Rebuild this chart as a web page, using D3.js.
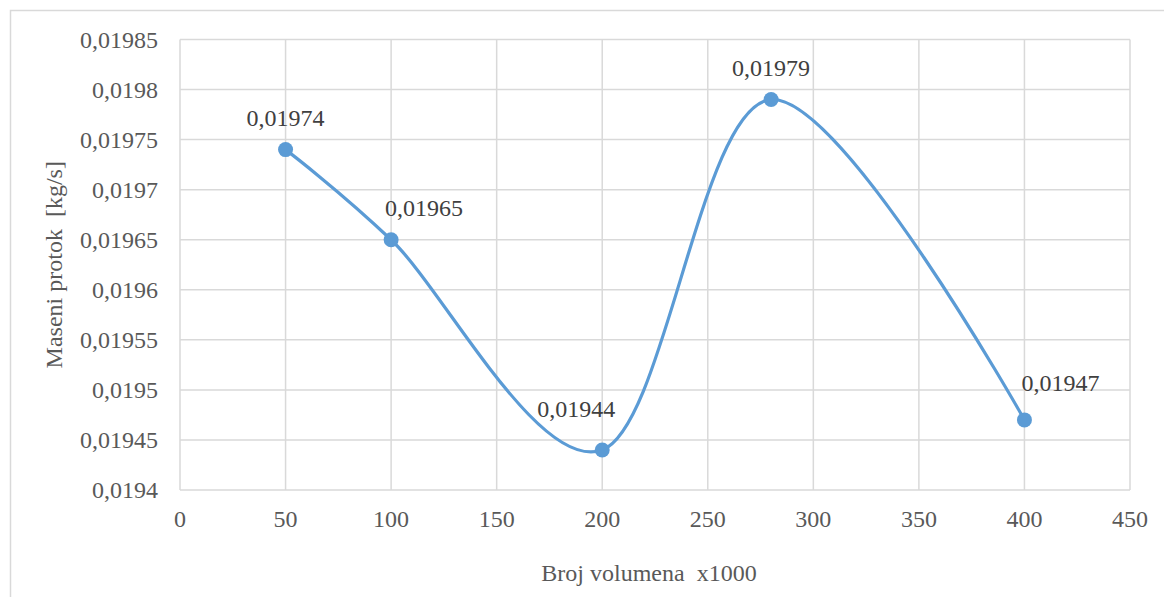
<!DOCTYPE html>
<html><head><meta charset="utf-8">
<script src="https://cdn.jsdelivr.net/npm/d3@7"></script>
<style>html,body{margin:0;padding:0;background:#fff;}svg{display:block;}</style>
</head><body>
<script>
const xValues = [50, 100, 200, 280, 400];
const yValues = [0.01974, 0.01965, 0.01944, 0.01979, 0.01947];
const pointLabels = ["0,01974", "0,01965", "0,01944", "0,01979", "0,01947"];
const xTicks = [0, 50, 100, 150, 200, 250, 300, 350, 400, 450];
const yTicks = [0.0194, 0.01945, 0.0195, 0.01955, 0.0196, 0.01965, 0.0197, 0.01975, 0.0198, 0.01985];
const yTickLabels = ["0,0194", "0,01945", "0,0195", "0,01955", "0,0196", "0,01965", "0,0197", "0,01975", "0,0198", "0,01985"];
const xTitle = "Broj volumena  x1000";
const yTitle = "Maseni protok  [kg/s]";

// layout (pixel offsets of the data labels relative to their points)
const labelOffsets = [[0, -24], [33, -24], [-26, -33], [0, -24], [36, -29]];

const W = 1164, H = 597;
const L = 180, R = 1130, T = 39.5, B = 490;
const font = "'Liberation Serif','Times New Roman',serif";

const svg = d3.select("body").append("svg").attr("width", W).attr("height", H);
svg.append("rect").attr("x", 10.5).attr("y", 10.5).attr("width", W + 20).attr("height", H + 20)
  .attr("fill", "#fff").attr("stroke", "#d9d9d9").attr("stroke-width", 1.5);

const x = d3.scaleLinear().domain([0, 450]).range([L, R]);
const y = d3.scaleLinear().domain([0.0194, 0.01985]).range([B, T]);

const g = svg.append("g");
g.selectAll(".hg").data(yTicks).join("line")
  .attr("x1", L).attr("x2", R).attr("y1", d => y(d)).attr("y2", d => y(d))
  .attr("stroke", "#d9d9d9").attr("stroke-width", 1.5);
g.selectAll(".vg").data(xTicks).join("line")
  .attr("y1", T).attr("y2", B).attr("x1", d => x(d)).attr("x2", d => x(d))
  .attr("stroke", "#d9d9d9").attr("stroke-width", 1.5);

g.selectAll(".yl").data(yTicks).join("text")
  .attr("x", 158).attr("y", d => y(d)).attr("dy", "0.35em")
  .attr("text-anchor", "end").attr("font-family", font).attr("font-size", 24)
  .attr("fill", "#595959").text((d, i) => yTickLabels[i]);
g.selectAll(".xl").data(xTicks).join("text")
  .attr("x", d => x(d)).attr("y", 527)
  .attr("text-anchor", "middle").attr("font-family", font).attr("font-size", 24)
  .attr("fill", "#595959").text(d => d);

svg.append("text").attr("x", (L + R) / 2 - 6).attr("y", 581)
  .attr("text-anchor", "middle").attr("font-family", font).attr("font-size", 24)
  .attr("fill", "#595959").style("white-space", "pre").text(xTitle);
svg.append("text").attr("transform", `translate(62,${(T + B) / 2}) rotate(-90)`)
  .attr("text-anchor", "middle").attr("font-family", font).attr("font-size", 24)
  .attr("fill", "#595959").style("white-space", "pre").text(yTitle);

const pts = xValues.map((v, i) => [v, yValues[i]]);
const line = d3.line().x(d => x(d[0])).y(d => y(d[1])).curve(d3.curveCardinal.tension(0));
svg.append("path").datum(pts).attr("d", line).attr("fill", "none")
  .attr("stroke", "#5b9bd5").attr("stroke-width", 3.2).attr("stroke-linecap", "round");
svg.selectAll(".pt").data(pts).join("circle")
  .attr("cx", d => x(d[0])).attr("cy", d => y(d[1])).attr("r", 7.5).attr("fill", "#5b9bd5");
svg.selectAll(".pl").data(pts).join("text")
  .attr("x", (d, i) => x(d[0]) + labelOffsets[i][0]).attr("y", (d, i) => y(d[1]) + labelOffsets[i][1])
  .attr("text-anchor", "middle").attr("font-family", font).attr("font-size", 24)
  .attr("fill", "#404040").text((d, i) => pointLabels[i]);
</script>
</body></html>
